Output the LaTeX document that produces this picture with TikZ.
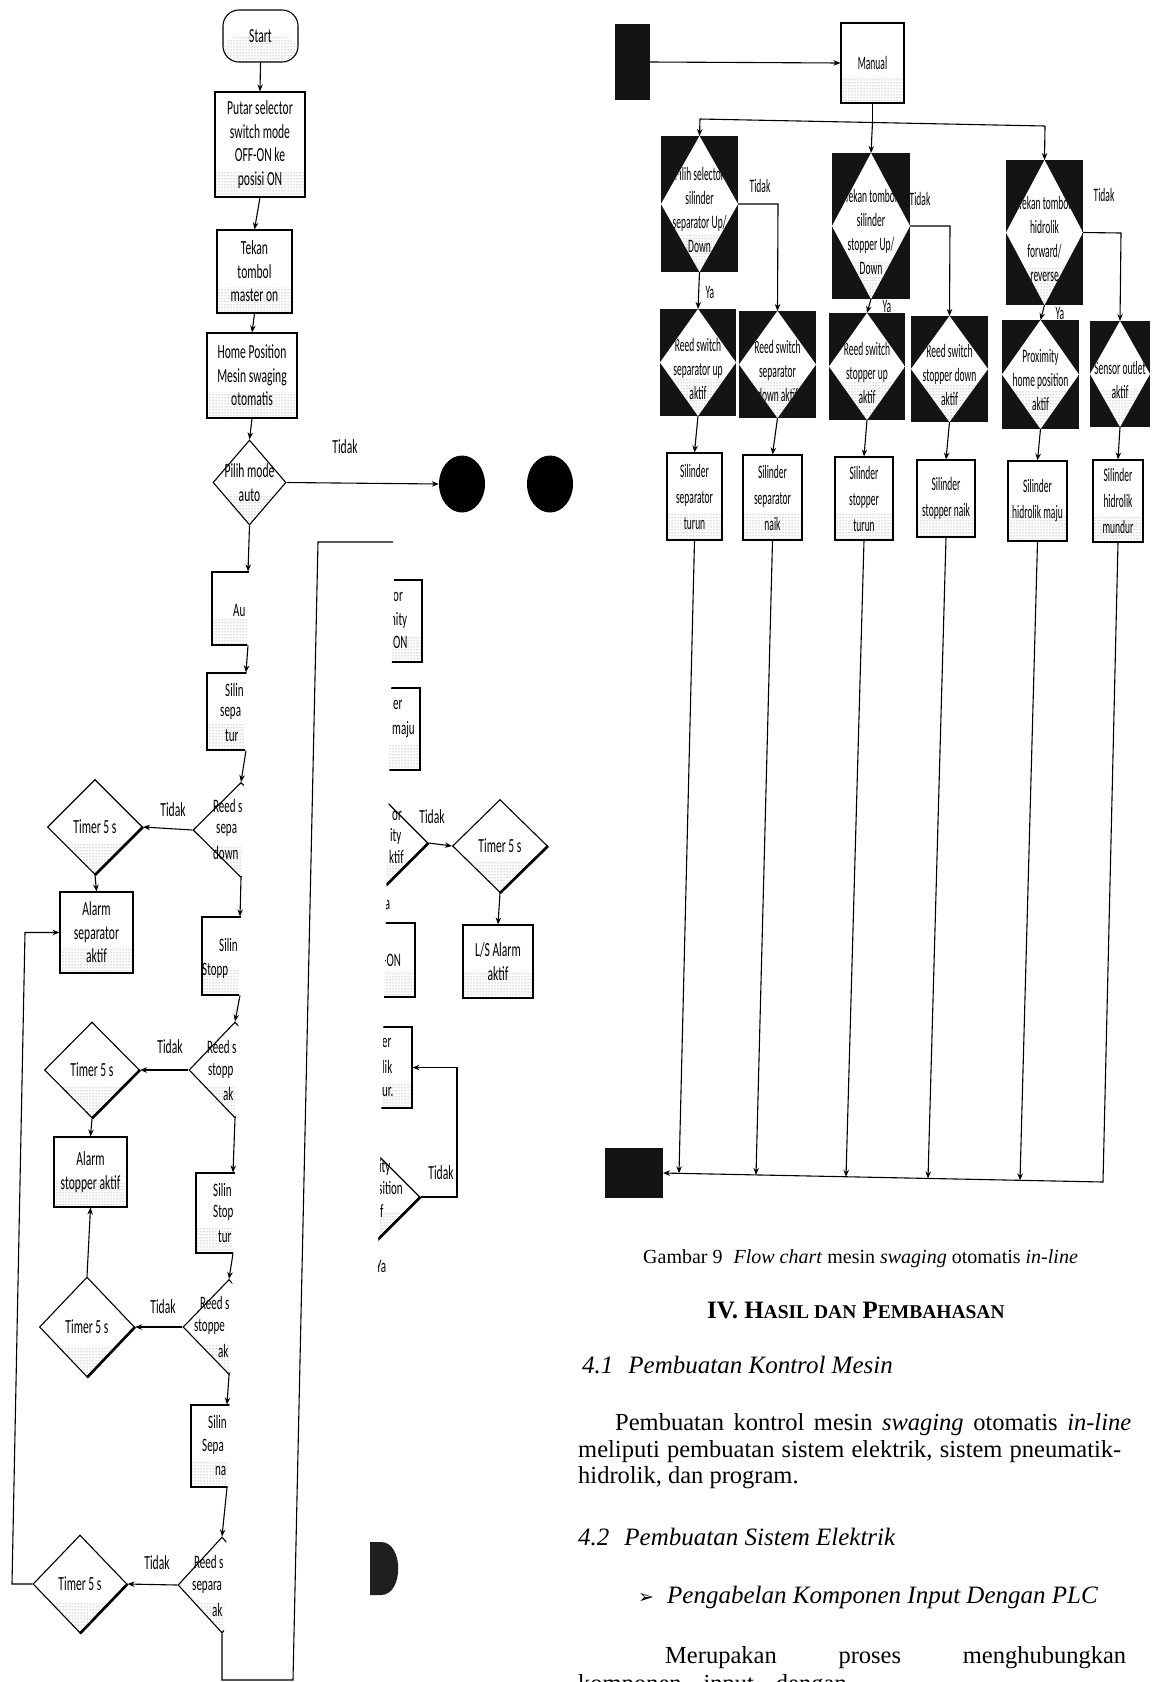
\documentclass[tikz,border=0pt]{standalone}
\usepackage{fontspec}
\setmainfont{Liberation Serif}
\newfontfamily\fcn[FakeStretch=0.58]{Carlito}
\newfontfamily\fcm[FakeStretch=0.5]{Carlito}
\newfontfamily\symf{DejaVu Sans}
\usetikzlibrary{arrows.meta,shapes.geometric,patterns}
\tikzset{
 ln/.style={line width=1.1pt},
 arr/.style={ln,-{Stealth[length=7pt,width=5.5pt]}},
 speck/.style={path picture={\fill[pattern=dots,pattern color=black!55] ([yshift=#1]path picture bounding box.south west) rectangle (path picture bounding box.south east);}},
 speck/.default=26pt,
 lbox/.style={draw,ln,fill=white,speck,inner sep=1pt,align=center,font=\fcn\fontsize{20}{23.5}\selectfont},
 rbox/.style={draw,ln,fill=white,speck,inner sep=1pt,align=center,font=\fcm\fontsize{19}{26}\selectfont},
 ldia/.style={draw,ln,fill=white,shape=diamond,inner sep=0pt,speck=30pt},
 ltxt/.style={inner sep=0pt,align=center,font=\fcn\fontsize{20}{23.5}\selectfont},
 rtxt/.style={inner sep=0pt,align=center,font=\fcm\fontsize{19}{24}\selectfont},
 frag/.style={inner sep=0pt,anchor=west,font=\fcn\fontsize{19}{22}\selectfont},
 blk/.style={fill=black!92,inner sep=0pt,outer sep=0pt},
 body/.style={inner sep=0pt,anchor=base west,font=\fontsize{24.5}{29}\selectfont},
 thk/.style={line width=2.6pt}
}
\newcommand\ldiam[6]{\node[ldia,minimum width=#4pt,minimum height=#5pt] (#1) at (#2,#3) {};
 \node[ltxt] (#1t) at (#2,#3) {#6};}
\newcommand\bdiam[6]{\node[blk,minimum width=#4pt,minimum height=#5pt] (#1) at (#2,#3) {};
 \begin{scope}
 \clip (#1.north) -- (#1.east) -- (#1.south) -- (#1.west) -- cycle;
 \fill[white] (#1.north west) rectangle (#1.south east);
 \fill[pattern=dots,pattern color=black!55] ([yshift=38pt]#1.south west) rectangle (#1.south east);
 \node[rtxt,yshift=-6pt] (#1t) at (#2,#3) {#6};
 \end{scope}}
\begin{document}
\begin{tikzpicture}[x=1pt,y=-1pt]
\useasboundingbox (0,0) rectangle (1153,1682);
\clip (0,0) rectangle (1153,1682);
\fill[white] (0,0) rectangle (1153,1682);

% ---------------- left page, top part
\node[lbox,rounded corners=16pt,minimum width=75pt,minimum height=52pt] (start) at (260.5,36) {Start};
\node[lbox,minimum width=90pt,minimum height=105pt] (p1) at (260,144.5) {Putar selector\\switch mode\\OFF-ON ke\\posisi ON};
\node[lbox,minimum width=75pt,minimum height=83pt] (p2) at (254.5,271.5) {Tekan\\tombol\\master on};
\node[lbox,minimum width=90pt,minimum height=85pt] (p3) at (252,375.5) {Home Position\\Mesin swaging\\otomatis};
\ldiam{d0}{249.5}{482.5}{73}{85}{Pilih mode\\auto}
\node[ltxt] (tk0) at (345,447) {Tidak};
\node[ellipse,fill=black,minimum width=46pt,minimum height=57pt,inner sep=0pt] (c1) at (462,484) {};
\node[ellipse,fill=black,minimum width=46pt,minimum height=57pt,inner sep=0pt] (c2) at (550,484) {};
\draw[arr] (start.south) -- (p1.north);
\draw[arr] (p1.south) -- (p2.north);
\draw[arr] (p2.south) -- (p3.north);
\draw[arr] (p3.south) -- (d0.north);
\draw[arr] (d0.east) -- (c1.west);

% ---------------- left strip (cut)
\begin{scope}
\clip (0,528) -- (250,528) -- (223,1682) -- (0,1682) -- cycle;
\node[lbox,minimum width=72pt,minimum height=73pt] (L1) at (248,608.5) {};
\node[lbox,minimum width=78pt,minimum height=77pt] (L2) at (246,711.5) {};
\node[ldia,minimum width=96pt,minimum height=95pt] (L3) at (241,830) {};
\node[lbox,minimum width=76pt,minimum height=78pt] (L4) at (240,956) {};
\node[ldia,minimum width=92pt,minimum height=96pt] (L5) at (235,1070) {};
\node[lbox,minimum width=74pt,minimum height=80pt] (L6) at (233,1213) {};
\node[ldia,minimum width=92pt,minimum height=95pt] (L7) at (229,1327) {};
\node[lbox,minimum width=72pt,minimum height=82pt] (L8) at (227,1446) {};
\node[ldia,minimum width=88pt,minimum height=96pt] (L9) at (222,1585) {};
\node[frag] (f1) at (233,610) {Au};
\node[frag] (f2) at (225,690) {Silin};
\node[frag] (f3) at (220,713) {sepa};
\node[frag] (f4) at (225,736) {tur};
\node[frag] (f5) at (213,806) {Reed s};
\node[frag] (f6) at (216,830) {sepa};
\node[frag] (f7) at (213,853) {down};
\node[frag] (f8) at (219,945) {Silin};
\node[frag] (f9) at (202,971) {Stopp};
\node[frag] (f10) at (207,1047) {Reed s};
\node[frag] (f11) at (208,1071) {stopp};
\node[frag] (f12) at (223,1094) {ak};
\node[frag] (f13) at (213,1190) {Silin};
\node[frag] (f14) at (213,1213) {Stop};
\node[frag] (f15) at (218,1237) {tur};
\node[frag] (f16) at (200,1303) {Reed s};
\node[frag] (f17) at (194,1327) {stoppe};
\node[frag] (f18) at (218,1351) {ak};
\node[frag] (f19) at (208,1422) {Silin};
\node[frag] (f20) at (202,1447) {Sepa};
\node[frag] (f21) at (215,1471) {na};
\node[frag] (f22) at (194,1562) {Reed s};
\node[frag] (f23) at (192,1587) {separa};
\node[frag] (f24) at (212,1610) {ak};
\end{scope}

\ldiam{t1}{95}{827}{95}{95}{Timer 5 s}
\ldiam{t2}{92}{1070}{95}{96}{Timer 5 s}
\ldiam{t3}{87}{1327}{95}{100}{Timer 5 s}
\ldiam{t4}{80}{1584}{94}{98}{Timer 5 s}
\draw[thk] (t1.east) -- (t1.south);
\draw[thk] (t2.east) -- (t2.south);
\draw[thk] (t3.east) -- (t3.south);
\draw[thk] (t4.east) -- (t4.south);
\node[lbox,minimum width=73pt,minimum height=81pt] (a1) at (96.5,932.5) {Alarm\\separator\\aktif};
\node[lbox,minimum width=73pt,minimum height=70pt] (a2) at (90.5,1172) {Alarm\\stopper aktif};
\node[ltxt] (tk1) at (173,810) {Tidak};
\node[ltxt] (tk2) at (170,1047) {Tidak};
\node[ltxt] (tk3) at (163,1307) {Tidak};
\node[ltxt] (tk4) at (157,1563) {Tidak};

\draw[arr] (d0.south) -- (L1.north);
\draw[arr] (L1.south) -- (L2.north);
\draw[arr] (L2.south) -- (L3.north);
\draw[arr] (L3.south) -- (L4.north);
\draw[arr] (L4.south) -- (L5.north);
\draw[arr] (L5.south) -- (L6.north);
\draw[arr] (L6.south) -- (L7.north);
\draw[arr] (L7.south) -- (L8.north);
\draw[arr] (L8.south) -- (L9.north);
\draw[arr] (L3.west) -- (t1.east);
\draw[arr] (L5.west) -- (t2.east);
\draw[arr] (L7.west) -- (t3.east);
\draw[arr] (L9.west) -- (t4.east);
\draw[arr] (t1.south) -- (a1.north);
\draw[arr] (t2.south) -- (a2.north);
\draw[arr] (t3.north) -- (a2.south);
\coordinate (k1) at (12,1584);
\coordinate (k2) at (25,932.5);
\draw[arr] (t4.west) -- (k1) -- (k2) -- (a1.west);
\coordinate (m2) at (293,1680);
\coordinate (m3) at (318,542);
\coordinate (m4) at (393,542);
\draw[ln] (L9.south) |- (m2) -- (m3) -- (m4);

% ---------------- right strip (cut)
\begin{scope}
\clip (395,528) -- (640,528) -- (640,1682) -- (368,1682) -- cycle;
\node[lbox,minimum width=74pt,minimum height=82pt] (R1) at (385,621) {};
\node[lbox,minimum width=74pt,minimum height=82pt] (R2) at (383,729) {};
\node[ldia,minimum width=96pt,minimum height=96pt] (R3) at (380,843) {};
\node[lbox,minimum width=74pt,minimum height=74pt] (R4) at (378,960) {};
\node[lbox,minimum width=74pt,minimum height=81pt] (R5) at (375,1067.5) {};
\node[ldia,minimum width=92pt,minimum height=92pt] (R6) at (374,1197) {};
\draw[thk] (R3.east) -- (R3.south);
\draw[thk] (R6.east) -- (R6.south);
\node[frag] (g1) at (393,597) {or};
\node[frag] (g2) at (390,620) {nity};
\node[frag] (g3) at (393,642) {ON};
\node[frag] (g4) at (393,705) {er};
\node[frag] (g5) at (392,730) {maju};
\node[frag] (g6) at (392,816) {or};
\node[frag] (g7) at (390,836) {ity};
\node[frag] (g8) at (389,857) {ktif};
\node[frag] (g9) at (383,960) {-ON};
\node[frag] (g10) at (382,1043) {er};
\node[frag] (g11) at (382,1067) {lik};
\node[frag] (g12) at (382,1092) {ur.};
\node[frag] (g13) at (379,1167) {ity};
\node[frag] (g14) at (378,1188) {sition};
\node[frag] (g15) at (380,1211) {f};
\node[frag] (ya1) at (380,903) {Ya};
\node[frag] (ya2) at (376,1266) {Ya};
\end{scope}
\ldiam{t5}{500}{846}{95}{93}{Timer 5 s}
\draw[thk] (t5.east) -- (t5.south);
\node[lbox,minimum width=70pt,minimum height=73pt] (ls) at (498,961.5) {L/S Alarm\\aktif};
\node[ltxt] (tk5) at (432,817) {Tidak};
\node[ltxt] (tk6) at (441,1173) {Tidak};
\draw[arr] (R3.east) -- (t5.west);
\draw[arr] (t5.south) -- (ls.north);
\coordinate (q1) at (457,1197);
\coordinate (q2) at (457,1067.5);
\draw[arr] (R6.east) -- (q1) -- (q2) -- (R5.east);
\fill[black!88] (370,1542) -- (381,1542) .. controls (404,1542) and (404,1595) .. (381,1595) -- (370,1595) -- cycle;

% ---------------- right page flow chart
\node[blk,minimum width=35pt,minimum height=76pt] (b0) at (632.5,62) {};
\node[rbox,minimum width=63pt,minimum height=80pt] (man) at (872.5,63) {Manual};
\draw[arr] (b0.east) -- (man.west);
\bdiam{D1}{699.5}{204}{77}{136}{Pilih selector\\silinder\\separator Up/\\Down}
\bdiam{D2}{871}{226}{78}{146}{Tekan tombol\\silinder\\stopper Up/\\Down}
\bdiam{D3}{1044.5}{232.5}{77}{145}{Tekan tombol\\hidrolik\\forward/\\reverse}
\coordinate (j1) at (700,119);
\coordinate (j2) at (872.5,122.5);
\coordinate (j3) at (1045,126);
\draw[ln] (man.south) -- (j2);
\draw[ln] (j1) -- (j3);
\draw[arr] (j1) -- (D1.north);
\draw[arr] (j2) -- (D2.north);
\draw[arr] (j3) -- (D3.north);

\bdiam{DA}{698}{362.5}{76}{107}{Reed switch\\separator up\\aktif}
\bdiam{DB}{777.5}{364.5}{77}{107}{Reed switch\\separator\\down aktif}
\bdiam{DC}{867}{366.5}{76}{107}{Reed switch\\stopper up\\aktif}
\bdiam{DD}{949.5}{369}{77}{106}{Reed switch\\stopper down\\aktif}
\bdiam{DE}{1040.5}{374.5}{77}{109}{Proximity\\home position\\aktif}
\bdiam{DF}{1120}{374}{60}{106}{Sensor outlet\\aktif}

\node[rtxt] (ty1) at (760,186) {Tidak};
\node[rtxt] (ty2) at (920,199) {Tidak};
\node[rtxt] (ty3) at (1104,195) {Tidak};
\node[rtxt] (yy1) at (710,292) {Ya};
\node[rtxt] (yy2) at (887,306) {Ya};
\node[rtxt] (yy3) at (1060,313) {Ya};
\coordinate (u1) at (778,204);
\coordinate (u2) at (950,226);
\coordinate (u3) at (1121,233);
\draw[arr] (D1.east) -- (u1) -- (DB.north);
\draw[arr] (D2.east) -- (u2) -- (DD.north);
\draw[arr] (D3.east) -- (u3) -- (DF.north);
\draw[arr] (D1.south) -- (DA.north);
\draw[arr] (D2.south) -- (DC.north);
\draw[arr] (D3.south) -- (DE.north);

\node[rbox,minimum width=55pt,minimum height=87pt] (G) at (694.5,496.5) {Silinder\\separator\\turun};
\node[rbox,minimum width=59pt,minimum height=85pt] (H) at (772.5,497.5) {Silinder\\separator\\naik};
\node[rbox,minimum width=58pt,minimum height=83pt] (I) at (864,498.5) {Silinder\\stopper\\turun};
\node[rbox,minimum width=58pt,minimum height=77pt] (J) at (946,498.5) {Silinder\\stopper naik};
\node[rbox,minimum width=59pt,minimum height=80pt] (K) at (1037.5,501) {Silinder\\hidrolik maju};
\node[rbox,minimum width=50pt,minimum height=82pt] (L) at (1118,501) {Silinder\\hidrolik\\mundur};
\draw[arr] (DA.south) -- (G.north);
\draw[arr] (DB.south) -- (H.north);
\draw[arr] (DC.south) -- (I.north);
\draw[arr] (DD.south) -- (J.north);
\draw[arr] (DE.south) -- (K.north);
\draw[arr] (DF.south) -- (L.north);

\node[blk,minimum width=58pt,minimum height=50pt] (endb) at (634,1173) {};
\coordinate (e1) at (679,1173.3);
\coordinate (e2) at (756,1174.9);
\coordinate (e3) at (846,1176.8);
\coordinate (e4) at (928,1178.4);
\coordinate (e5) at (1020,1180.3);
\coordinate (e6) at (1103,1182);
\draw[arr] (G.south) -- (e1);
\draw[arr] (H.south) -- (e2);
\draw[arr] (I.south) -- (e3);
\draw[arr] (J.south) -- (e4);
\draw[arr] (K.south) -- (e5);
\draw[arr] (L.south) -- (e6) -- (endb.east);

% ---------------- page text
\node[inner sep=0pt,anchor=base west,font=\fontsize{20}{24}\selectfont] (cap) at (643,1263)
 {Gambar 9\hspace{0.55em}\textit{Flow chart} mesin \textit{swaging} otomatis \textit{in-line}};
\node[inner sep=0pt,anchor=base west,font=\bfseries\fontsize{25}{30}\selectfont] (sec) at (707,1318)
 {IV. H{\fontsize{19.5}{30}\selectfont ASIL DAN} P{\fontsize{19.5}{30}\selectfont EMBAHASAN}};
\node[body,font=\itshape\fontsize{25}{30}\selectfont] (s41) at (582,1373) {4.1\hspace{0.6em}Pembuatan Kontrol Mesin};
\node[body] (b1) at (615,1430) {\parbox[b]{516pt}{\parfillskip=0pt Pembuatan kontrol mesin \textit{swaging} otomatis \textit{in-line}}};
\node[body] (b2) at (578,1457) {\parbox[b]{543pt}{\parfillskip=0pt meliputi pembuatan sistem elektrik, sistem pneumatik-}};
\node[body] (b3) at (578,1483) {hidrolik, dan program.};
\node[body,font=\itshape\fontsize{25}{30}\selectfont] (s42) at (578,1545) {4.2\hspace{0.6em}Pembuatan Sistem Elektrik};
\node[inner sep=0pt,anchor=base west,font=\symf\fontsize{19}{24}\selectfont] (bul) at (638,1603) {➢};
\node[body,font=\itshape\fontsize{25}{30}\selectfont] (s43) at (667,1603) {Pengabelan Komponen Input Dengan PLC};
\node[body] (b4) at (665,1663) {\parbox[b]{461pt}{\parfillskip=0pt Merupakan proses menghubungkan}};
\node[body] (b5) at (578,1691) {komponen\hspace{22pt}input\hspace{22pt}dengan};
\end{tikzpicture}
\end{document}
